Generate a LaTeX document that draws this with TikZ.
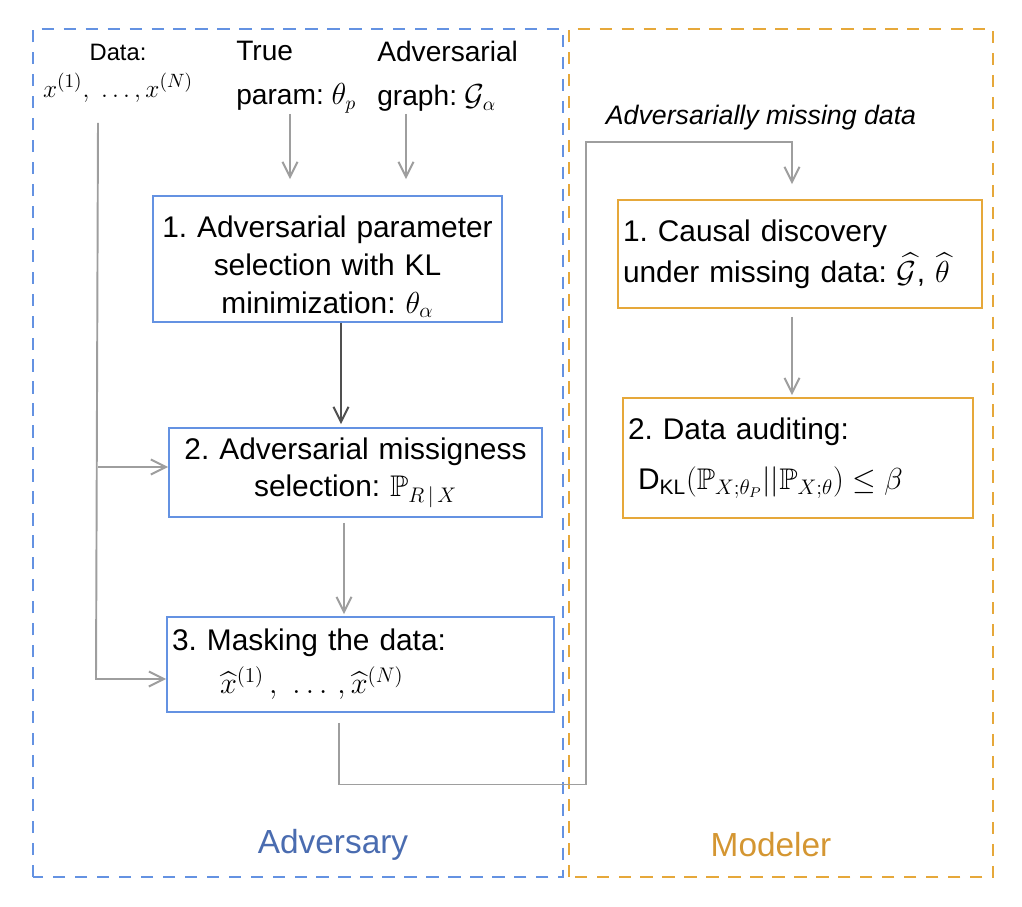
\documentclass[tikz,border=0pt]{standalone}
\usepackage{amsmath,amssymb}
\usepackage{fontspec}
\setmainfont{Liberation Sans}
\usepackage{tikz}
\usetikzlibrary{arrows.meta}
\frenchspacing

\definecolor{advblue}{RGB}{100,146,226}
\definecolor{advtext}{RGB}{74,108,176}
\definecolor{modorange}{RGB}{230,168,58}
\definecolor{modtext}{RGB}{212,150,50}
\definecolor{flowgray}{RGB}{158,158,158}
\definecolor{flowdark}{RGB}{80,80,80}

\tikzset{
    >={Straight Barb[length=3mm,width=3mm]},
    stepbox/.style={draw, line width=1.1pt, inner xsep=0.1cm, inner ysep=0pt,
        font=\fontsize{17}{21.5}\selectfont},
    advbox/.style={stepbox, draw=advblue},
    modbox/.style={stepbox, draw=modorange},
    inlabel/.style={inner sep=0pt, align=left, font=\fontsize{16}{21}\selectfont},
    flow/.style={->, draw=flowgray, line width=1.1pt},
    flowdark/.style={->, draw=flowdark, line width=1.1pt},
    frame/.style={dash pattern=on 7pt off 5.5pt, line width=1.1pt}
}

\begin{document}
\begin{tikzpicture}

    \useasboundingbox (0,0) rectangle (20.44,18.12);

    % the two sides
    \draw[frame, advblue] (0.66,0.58) rectangle (11.26,17.54);
    \draw[frame, modorange] (11.38,0.58) rectangle (19.86,17.54);

    \node[text=advtext, font=\fontsize{19}{23}\selectfont] (adv) at (6.66,1.22) {Adversary};
    \node[text=modtext, font=\fontsize{19}{23}\selectfont] (mod) at (15.42,1.22) {Modeler};

    % inputs
    \node[align=center, inner sep=0pt, font=\fontsize{15}{19}\selectfont] (data) at (2.36,16.66)
        {{\fontsize{13.5}{16}\selectfont Data:}\\[2pt] $x^{(1)},\ \ldots,x^{(N)}$};
    \node[inlabel, anchor=north west] (param) at (4.72,17.3) {True\\[4pt]param: $\theta_p$};
    \node[inlabel, anchor=north west] (graph) at (7.54,17.3) {Adversarial\\[4pt]graph: $\mathcal{G}_\alpha$};

    % adversary steps
    \node[advbox, minimum width=6.98cm, minimum height=2.52cm, text width=6.78cm, align=center]
        (m1) at (6.55,12.94) {\rule{0pt}{0.75cm}1. Adversarial parameter\\selection with KL\\minimization: $\theta_\alpha$};
    \node[advbox, minimum width=7.46cm, minimum height=1.78cm, text width=7.26cm, align=center]
        (m2) at (7.11,8.67) {2. Adversarial missigness\\selection: $\mathbb{P}_{R\,|\,X}$};
    \node[advbox, minimum width=7.74cm, minimum height=1.9cm, text width=7.54cm, align=left]
        (m3) at (7.21,4.83) {3. Masking the data:\\[3pt]\hspace*{0.96cm}$\widehat{x}^{(1)}\,,\ \ldots\,,\widehat{x}^{(N)}$};

    % modeler steps
    \node[modbox, minimum width=7.28cm, minimum height=2.16cm, text width=7.08cm, align=left]
        (o1) at (16.0,13.04) {1. Causal discovery\\[2pt]under missing data: $\widehat{\mathcal{G}}$, $\widehat{\theta}$};
    \node[modbox, minimum width=7.0cm, minimum height=2.4cm, text width=6.8cm, align=left]
        (o2) at (15.96,8.96) {2. Data auditing:\\[7pt]\hspace*{0.2cm}D$_{\text{KL}}$$(\mathbb{P}_{X;\theta_P}||\mathbb{P}_{X;\theta})\leq\beta$};

    \node[font=\fontsize{15.2}{18}\selectfont\itshape] (lost) at (15.22,15.76) {Adversarially missing data};

    % arrows into step 1
    \coordinate (pin) at (5.8,15.84);
    \coordinate (gin) at (8.12,15.84);
    \draw[flow, shorten >=0.32cm] (pin) -- (pin |- m1.north);
    \draw[flow, shorten >=0.32cm] (gin) -- (gin |- m1.north);

    % data line
    \coordinate (dtop) at (1.96,15.66);
    \coordinate (dsplit) at (1.96,8.78);
    \coordinate (dbot) at (1.92,4.54);
    \draw[flow] (dtop) -- (dbot) -- (dbot -| m3.west);
    \draw[flow] (dsplit) -- (dsplit -| m2.west);

    \draw[flowdark] ([xshift=0.27cm]m1.south) -- ([xshift=0.27cm,yshift=0.06cm]m1.south |- m2.north);
    \draw[flow] ([xshift=-0.23cm,yshift=-0.1cm]m2.south) -- ([xshift=-0.23cm,yshift=0.04cm]m2.south |- m3.north);

    % masked data over to the modeler
    \coordinate (low) at (11.72,2.43);
    \coordinate (turn) at (11.72,15.28);
    \draw[flow] ([xshift=-0.43cm,yshift=-0.2cm]m3.south) |- (low) -- (turn) -| ([xshift=-0.16cm,yshift=0.3cm]o1.north);

    \draw[flow] ([xshift=-0.16cm,yshift=-0.16cm]o1.south) -- ([xshift=-0.16cm,yshift=0.04cm]o1.south |- o2.north);

\end{tikzpicture}
\end{document}
